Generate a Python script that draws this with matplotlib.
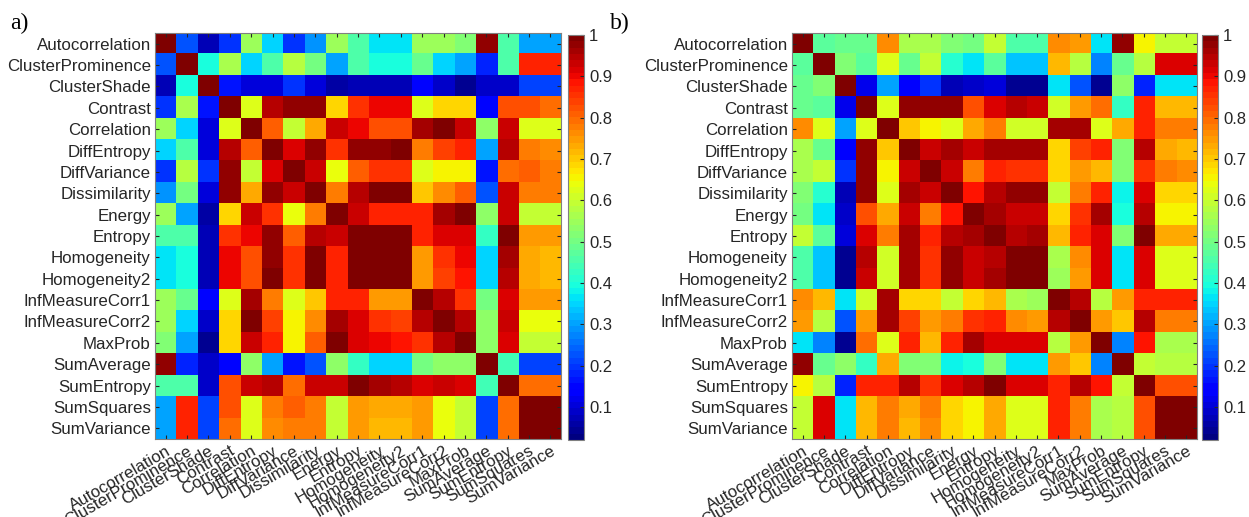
import numpy as np
import matplotlib
matplotlib.use('Agg')
import matplotlib.pyplot as plt
from matplotlib.ticker import FormatStrFormatter

# feature names (same order on both axes)
features = ['Autocorrelation', 'ClusterProminence', 'ClusterShade', 'Contrast',
            'Correlation', 'DiffEntropy', 'DiffVariance', 'Dissimilarity',
            'Energy', 'Entropy', 'Homogeneity', 'Homogeneity2',
            'InfMeasureCorr1', 'InfMeasureCorr2', 'MaxProb', 'SumAverage',
            'SumEntropy', 'SumSquares', 'SumVariance']

# correlation matrix a)
corr_a = [
    [1.00, 0.22, 0.08, 0.20, 0.55, 0.35, 0.19, 0.29, 0.55, 0.45, 0.37, 0.37, 0.55, 0.55, 0.52, 0.97, 0.45, 0.30, 0.30],
    [0.22, 1.00, 0.39, 0.57, 0.35, 0.45, 0.58, 0.50, 0.30, 0.45, 0.40, 0.40, 0.49, 0.35, 0.31, 0.18, 0.45, 0.87, 0.87],
    [0.08, 0.39, 1.00, 0.16, 0.10, 0.10, 0.20, 0.11, 0.06, 0.07, 0.07, 0.07, 0.15, 0.09, 0.04, 0.09, 0.09, 0.21, 0.21],
    [0.20, 0.57, 0.16, 1.00, 0.62, 0.94, 0.98, 0.97, 0.68, 0.86, 0.90, 0.90, 0.63, 0.68, 0.69, 0.15, 0.83, 0.82, 0.80],
    [0.55, 0.35, 0.10, 0.62, 1.00, 0.81, 0.60, 0.73, 0.93, 0.90, 0.83, 0.83, 0.96, 0.99, 0.93, 0.53, 0.93, 0.62, 0.62],
    [0.35, 0.45, 0.10, 0.94, 0.81, 1.00, 0.91, 0.98, 0.86, 0.98, 0.98, 0.99, 0.78, 0.84, 0.87, 0.31, 0.95, 0.78, 0.76],
    [0.19, 0.58, 0.20, 0.98, 0.60, 0.91, 1.00, 0.93, 0.64, 0.81, 0.86, 0.86, 0.62, 0.66, 0.66, 0.16, 0.80, 0.81, 0.78],
    [0.29, 0.50, 0.11, 0.97, 0.73, 0.98, 0.93, 1.00, 0.78, 0.94, 0.99, 0.99, 0.70, 0.76, 0.81, 0.23, 0.93, 0.78, 0.78],
    [0.55, 0.30, 0.06, 0.68, 0.93, 0.86, 0.64, 0.78, 1.00, 0.93, 0.87, 0.87, 0.87, 0.96, 1.00, 0.53, 0.93, 0.59, 0.59],
    [0.45, 0.45, 0.07, 0.86, 0.90, 0.98, 0.81, 0.94, 0.93, 1.00, 0.99, 0.99, 0.87, 0.91, 0.91, 0.42, 0.99, 0.75, 0.75],
    [0.37, 0.40, 0.07, 0.90, 0.83, 0.98, 0.86, 0.99, 0.87, 0.99, 1.00, 1.00, 0.75, 0.85, 0.90, 0.35, 0.96, 0.73, 0.72],
    [0.37, 0.40, 0.07, 0.90, 0.83, 0.99, 0.86, 0.99, 0.87, 0.99, 1.00, 1.00, 0.75, 0.84, 0.89, 0.35, 0.94, 0.73, 0.72],
    [0.55, 0.49, 0.15, 0.63, 0.96, 0.78, 0.62, 0.70, 0.87, 0.87, 0.75, 0.75, 1.00, 0.95, 0.86, 0.50, 0.91, 0.75, 0.75],
    [0.55, 0.35, 0.09, 0.68, 0.99, 0.84, 0.66, 0.76, 0.96, 0.91, 0.85, 0.84, 0.95, 1.00, 0.94, 0.53, 0.93, 0.64, 0.64],
    [0.52, 0.31, 0.04, 0.69, 0.93, 0.87, 0.66, 0.81, 1.00, 0.91, 0.90, 0.89, 0.86, 0.94, 1.00, 0.53, 0.92, 0.60, 0.60],
    [0.97, 0.18, 0.09, 0.15, 0.53, 0.31, 0.16, 0.23, 0.53, 0.42, 0.35, 0.35, 0.50, 0.53, 0.53, 1.00, 0.44, 0.21, 0.21],
    [0.45, 0.45, 0.09, 0.83, 0.93, 0.95, 0.80, 0.93, 0.93, 0.99, 0.96, 0.94, 0.91, 0.93, 0.92, 0.44, 1.00, 0.80, 0.80],
    [0.30, 0.87, 0.21, 0.82, 0.62, 0.78, 0.81, 0.78, 0.59, 0.75, 0.73, 0.73, 0.75, 0.64, 0.60, 0.21, 0.80, 1.00, 1.00],
    [0.30, 0.87, 0.21, 0.80, 0.62, 0.76, 0.78, 0.78, 0.59, 0.75, 0.72, 0.72, 0.75, 0.64, 0.60, 0.21, 0.80, 1.00, 1.00],
]

# correlation matrix b)
corr_b = [
    [1.00, 0.47, 0.49, 0.49, 0.76, 0.56, 0.56, 0.51, 0.50, 0.59, 0.46, 0.46, 0.76, 0.75, 0.36, 0.98, 0.66, 0.59, 0.59],
    [0.47, 1.00, 0.52, 0.47, 0.62, 0.48, 0.59, 0.41, 0.37, 0.47, 0.34, 0.34, 0.72, 0.58, 0.28, 0.48, 0.58, 0.91, 0.91],
    [0.49, 0.52, 1.00, 0.12, 0.30, 0.13, 0.19, 0.08, 0.09, 0.11, 0.05, 0.05, 0.36, 0.22, 0.04, 0.53, 0.18, 0.36, 0.37],
    [0.49, 0.47, 0.12, 1.00, 0.62, 0.98, 0.98, 0.98, 0.83, 0.91, 0.94, 0.93, 0.61, 0.75, 0.80, 0.42, 0.87, 0.72, 0.71],
    [0.76, 0.62, 0.30, 0.62, 1.00, 0.70, 0.66, 0.62, 0.73, 0.78, 0.61, 0.61, 0.96, 0.96, 0.63, 0.73, 0.87, 0.78, 0.78],
    [0.56, 0.48, 0.13, 0.98, 0.70, 1.00, 0.93, 0.96, 0.93, 0.96, 0.96, 0.96, 0.68, 0.84, 0.87, 0.51, 0.94, 0.73, 0.72],
    [0.56, 0.59, 0.19, 0.98, 0.66, 0.93, 1.00, 0.93, 0.78, 0.87, 0.86, 0.85, 0.68, 0.75, 0.71, 0.51, 0.86, 0.78, 0.76],
    [0.51, 0.41, 0.08, 0.98, 0.62, 0.96, 0.93, 1.00, 0.88, 0.95, 0.97, 0.97, 0.60, 0.78, 0.87, 0.38, 0.91, 0.69, 0.68],
    [0.50, 0.37, 0.09, 0.83, 0.73, 0.93, 0.78, 0.88, 1.00, 0.96, 0.93, 0.93, 0.69, 0.85, 0.96, 0.39, 0.94, 0.65, 0.65],
    [0.59, 0.47, 0.11, 0.91, 0.78, 0.96, 0.87, 0.95, 0.96, 1.00, 0.95, 0.96, 0.72, 0.87, 0.91, 0.51, 0.99, 0.73, 0.73],
    [0.46, 0.34, 0.05, 0.94, 0.61, 0.96, 0.86, 0.97, 0.93, 0.95, 1.00, 1.00, 0.56, 0.76, 0.91, 0.36, 0.91, 0.63, 0.63],
    [0.46, 0.34, 0.05, 0.93, 0.61, 0.96, 0.85, 0.97, 0.93, 0.96, 1.00, 1.00, 0.55, 0.75, 0.91, 0.36, 0.91, 0.63, 0.63],
    [0.76, 0.72, 0.36, 0.61, 0.96, 0.68, 0.68, 0.60, 0.69, 0.72, 0.56, 0.55, 1.00, 0.94, 0.58, 0.75, 0.87, 0.87, 0.87],
    [0.75, 0.58, 0.22, 0.75, 0.96, 0.84, 0.75, 0.78, 0.85, 0.87, 0.76, 0.75, 0.94, 1.00, 0.75, 0.70, 0.94, 0.78, 0.78],
    [0.36, 0.28, 0.04, 0.80, 0.63, 0.87, 0.71, 0.87, 0.96, 0.91, 0.91, 0.91, 0.58, 0.75, 1.00, 0.28, 0.88, 0.56, 0.56],
    [0.98, 0.48, 0.53, 0.42, 0.73, 0.51, 0.51, 0.38, 0.39, 0.51, 0.36, 0.36, 0.75, 0.70, 0.28, 1.00, 0.60, 0.58, 0.58],
    [0.66, 0.58, 0.18, 0.87, 0.87, 0.94, 0.86, 0.91, 0.94, 0.99, 0.91, 0.91, 0.87, 0.94, 0.88, 0.60, 1.00, 0.83, 0.83],
    [0.59, 0.91, 0.36, 0.72, 0.78, 0.73, 0.78, 0.69, 0.65, 0.73, 0.63, 0.63, 0.87, 0.78, 0.56, 0.58, 0.83, 1.00, 1.00],
    [0.59, 0.91, 0.37, 0.71, 0.78, 0.72, 0.76, 0.68, 0.65, 0.73, 0.63, 0.63, 0.87, 0.78, 0.56, 0.58, 0.83, 1.00, 1.00],
]

cbar_ticks = [0.1, 0.2, 0.3, 0.4, 0.5, 0.6, 0.7, 0.8, 0.9, 1.0]
panel_labels = ['a)', 'b)']

plt.rcParams['font.family'] = ['Liberation Sans', 'DejaVu Sans']
txt_color = '#262626'

# MATLAB-like jet with 64 levels
cmap = plt.get_cmap('jet', 64)

fig = plt.figure(figsize=(12.49, 5.17), dpi=100)

# axes boxes in figure coords [left, bottom, width, height]
ax_boxes = [[0.1241, 0.1509, 0.3251, 0.7853], [0.6341, 0.1509, 0.3243, 0.7853]]
cb_boxes = [[0.4548, 0.1489, 0.0128, 0.7834], [0.9624, 0.1489, 0.0128, 0.7834]]
lab_pos = [(0.008, 0.955), (0.488, 0.955)]

for k, mat in enumerate([corr_a, corr_b]):
    ax = fig.add_axes(ax_boxes[k])
    im = ax.imshow(np.array(mat), cmap=cmap, vmin=0.02, vmax=1.0,
                   interpolation='nearest', aspect='auto')
    ax.set_xticks(range(len(features)))
    ax.set_yticks(range(len(features)))
    ax.set_xticklabels(features, rotation=30, ha='right', rotation_mode='anchor',
                       fontsize=12.2, color=txt_color)
    ax.set_yticklabels(features, fontsize=12.2, color=txt_color)
    ax.tick_params(direction='in', length=3, width=0.8, color=txt_color,
                   top=True, right=True, pad=3)
    for s in ax.spines.values():
        s.set_color('#808080')
        s.set_linewidth(0.8)

    # colorbar
    cax = fig.add_axes(cb_boxes[k])
    cb = fig.colorbar(im, cax=cax, ticks=cbar_ticks)
    cb.ax.yaxis.set_major_formatter(FormatStrFormatter('%g'))
    cb.ax.tick_params(direction='in', length=3, width=0.8, labelsize=12,
                      labelcolor=txt_color, color=txt_color)
    cb.outline.set_edgecolor('#808080')
    cb.outline.set_linewidth(0.8)

    # panel label
    fig.text(lab_pos[k][0], lab_pos[k][1], panel_labels[k], fontsize=17,
             family='Liberation Serif', color='black', va='center')

fig.savefig('out.png', dpi=100)
